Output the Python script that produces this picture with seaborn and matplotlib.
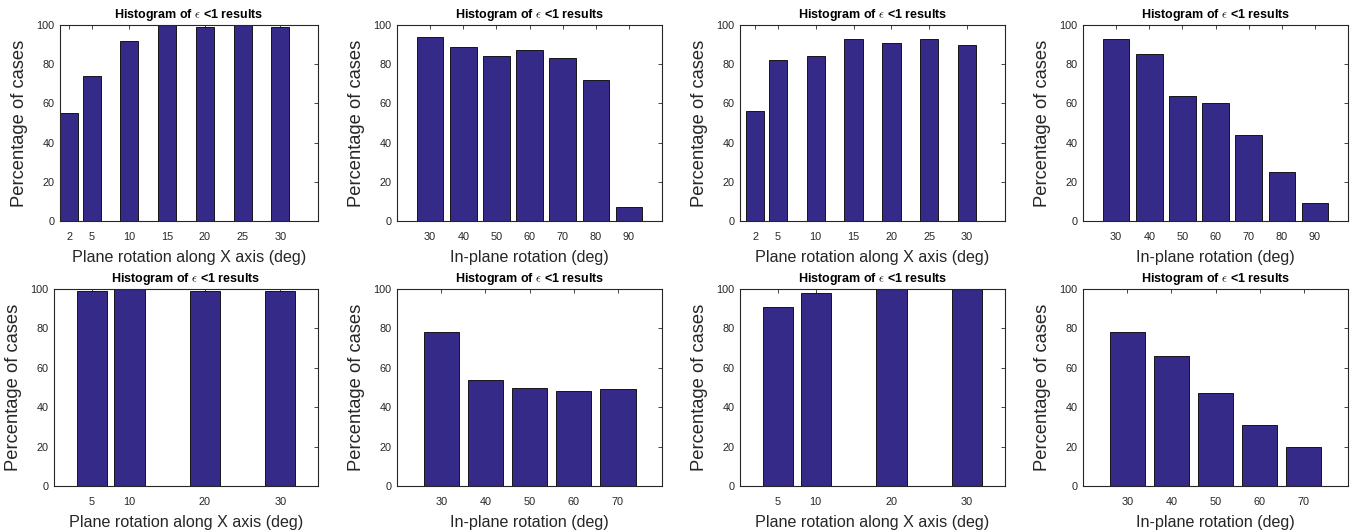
import matplotlib
matplotlib.use("Agg")
import matplotlib.pyplot as plt
import seaborn as sns
import numpy as np

sns.set_style("white")
plt.rcParams['font.family'] = ['Liberation Sans', 'DejaVu Sans']
plt.rcParams['mathtext.fontset'] = 'cm'

# ---- data ----
plane_x_a = [2, 5, 10, 15, 20, 25, 30]
plane_x_b = [5, 10, 20, 30]
inplane_x_a = [30, 40, 50, 60, 70, 80, 90]
inplane_x_b = [30, 40, 50, 60, 70]

p1_vals = [55, 74, 92, 100, 99, 100, 99]
p2_vals = [94, 89, 84, 87, 83, 72, 7]
p3_vals = [56, 82, 84, 93, 91, 93, 90]
p4_vals = [93, 85, 64, 60, 44, 25, 9]
p5_vals = [99, 100, 99, 99]
p6_vals = [78, 54, 50, 48, 49]
p7_vals = [91, 98, 100, 100]
p8_vals = [78, 66, 47, 31, 20]

title_text = r'Histogram of $\epsilon$ <1 results'
ylabel_text = 'Percentage of cases'
xlabel_plane = 'Plane rotation along X axis (deg)'
xlabel_inplane = 'In-plane rotation (deg)'

W, H = 1358, 530
fig = plt.figure(figsize=(W / 100, H / 100), dpi=100)

panels = [
    # (left, top, right, bottom), x, y, xlim, xlabel
    ((60, 25, 318, 221), plane_x_a, p1_vals, (0.8, 35), xlabel_plane),
    ((397, 25, 662, 221), inplane_x_a, p2_vals, (20, 100), xlabel_inplane),
    ((740, 25, 1005, 221), plane_x_a, p3_vals, (0, 35), xlabel_plane),
    ((1083, 25, 1348, 221), inplane_x_a, p4_vals, (20, 100), xlabel_inplane),
    ((54, 289, 318, 486), plane_x_b, p5_vals, (0, 35), xlabel_plane),
    ((397, 289, 662, 486), inplane_x_b, p6_vals, (20, 80), xlabel_inplane),
    ((740, 289, 1005, 486), plane_x_b, p7_vals, (0, 35), xlabel_plane),
    ((1083, 289, 1348, 486), inplane_x_b, p8_vals, (20, 80), xlabel_inplane),
]

bar_color = '#352A87'
text_color = '#262626'

for (l, t, r, b), xs, ys, xl, xlab in panels:
    ax = fig.add_axes([l / W, 1 - b / H, (r - l) / W, (b - t) / H])
    sns.barplot(x=xs, y=ys, native_scale=True, color=bar_color, saturation=1,
                edgecolor='black', linewidth=0.6, width=0.8, ax=ax)
    ax.set_xlim(*xl)
    ax.set_ylim(0, 100)
    ax.set_xticks(xs)
    ax.set_xticklabels([str(v) for v in xs])
    ax.set_yticks(np.arange(0, 101, 20))
    ax.tick_params(direction='in', top=True, right=True, length=3, width=0.6,
                   labelsize=7.8, colors=text_color, pad=4)
    ax.tick_params(axis='x', pad=8)
    for sp in ax.spines.values():
        sp.set_visible(True)
        sp.set_linewidth(0.8)
        sp.set_color(text_color)
    ax.set_title(title_text, fontsize=9, fontweight='bold', color='black', pad=5)
    ax.set_ylabel(ylabel_text, fontsize=13.2, color=text_color, labelpad=6)
    ax.set_xlabel(xlab, fontsize=11.6, color=text_color, labelpad=6)

fig.savefig('out.png', dpi=100, facecolor='white')
